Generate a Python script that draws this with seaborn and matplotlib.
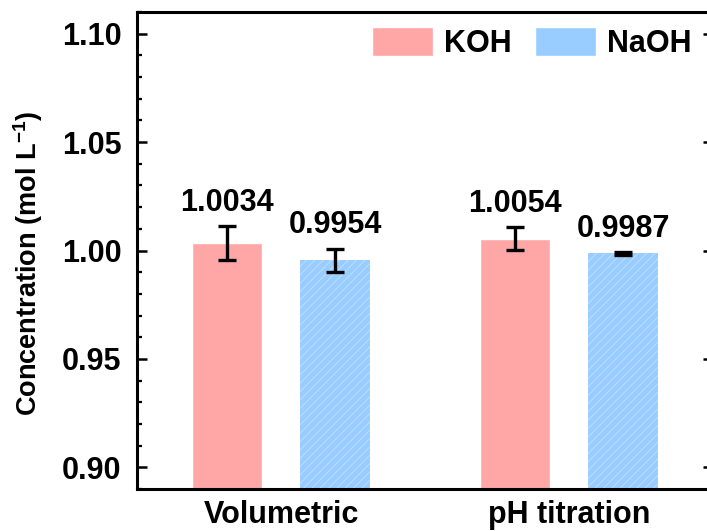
import pandas as pd
import seaborn as sns
import matplotlib.pyplot as plt
from matplotlib.ticker import MultipleLocator

# valores
metodos = ["Volumetric", "pH titration"]
koh = [1.0034, 1.0054]
naoh = [0.9954, 0.9987]
koh_err = [0.0078, 0.0053]
naoh_err = [0.0055, 0.0006]
solucoes = ["KOH", "NaOH"]
cores = ["#FFA6A6", "#99CCFF"]

df = pd.DataFrame({
    "Method": metodos * 2,
    "Concentration": koh + naoh,
    "Solution": [solucoes[0]] * 2 + [solucoes[1]] * 2,
})

sns.set_theme(style="ticks")
plt.rcParams["font.family"] = ["Liberation Sans", "DejaVu Sans"]
plt.rcParams["font.weight"] = "bold"
plt.rcParams["mathtext.fontset"] = "custom"
plt.rcParams["mathtext.bf"] = "Liberation Sans:bold"
plt.rcParams["mathtext.rm"] = "Liberation Sans:bold"
plt.rcParams["hatch.linewidth"] = 0.6
for chave in ["text.color", "axes.labelcolor", "xtick.color", "ytick.color", "axes.edgecolor"]:
    plt.rcParams[chave] = "black"

fig = plt.figure(figsize=(7.07, 5.31), dpi=100)
ax = fig.add_axes([137 / 707, 1 - 489 / 531, 576 / 707, 477 / 531])

sns.barplot(
    data=df,
    x="Method",
    y="Concentration",
    hue="Solution",
    palette=cores,
    saturation=1,
    width=0.75,
    gap=0.35,
    errorbar=None,
    ax=ax,
)

# hachura clara nas barras de NaOH
for barra in ax.containers[1]:
    barra.set_hatch("////")
    barra.set_edgecolor("#C2E2FF")
    barra.set_linewidth(0)

# barras de erro e rotulos
for cont, vals, errs in zip(ax.containers, [koh, naoh], [koh_err, naoh_err]):
    xs = [b.get_x() + b.get_width() / 2 for b in cont]
    ax.errorbar(xs, vals, yerr=errs, fmt="none", ecolor="black",
                elinewidth=2.4, capsize=6.5, capthick=2.4, zorder=5)
    for x, v, e in zip(xs, vals, errs):
        ax.annotate(f"{v:.4f}", (x, v + e), xytext=(0, 11), textcoords="offset points",
                    ha="center", va="baseline", fontsize=22, fontweight="bold")

ax.set_xlim(-0.5, 1.5)
ax.set_ylim(0.89, 1.11)
ax.yaxis.set_major_locator(MultipleLocator(0.05))
ax.yaxis.set_minor_locator(MultipleLocator(0.01))
ax.yaxis.set_major_formatter(plt.FormatStrFormatter("%.2f"))

ax.tick_params(axis="y", which="both", direction="in", left=True, right=True,
               labelsize=22, pad=11)
ax.tick_params(axis="y", which="major", length=7, width=1.8)
ax.tick_params(axis="y", which="minor", length=3.6, width=1.6)
ax.tick_params(axis="x", length=0, labelsize=22, pad=8)

for lado in ax.spines.values():
    lado.set_linewidth(2.2)
    lado.set_visible(True)

ax.set_xlabel("")
ax.set_ylabel(r"Concentration (mol L$^{\mathbf{-1}}$)", fontsize=19.5,
              fontweight="bold")
ax.yaxis.set_label_coords(-0.16, 0.472)

ax.legend(loc="upper left", bbox_to_anchor=(0.408, 0.968), ncol=2, frameon=False,
          fontsize=22, handlelength=2.0, handleheight=1.05, handletextpad=0.36,
          columnspacing=0.75, borderpad=0, borderaxespad=0)

plt.savefig("out.png", dpi=100)
plt.close()
